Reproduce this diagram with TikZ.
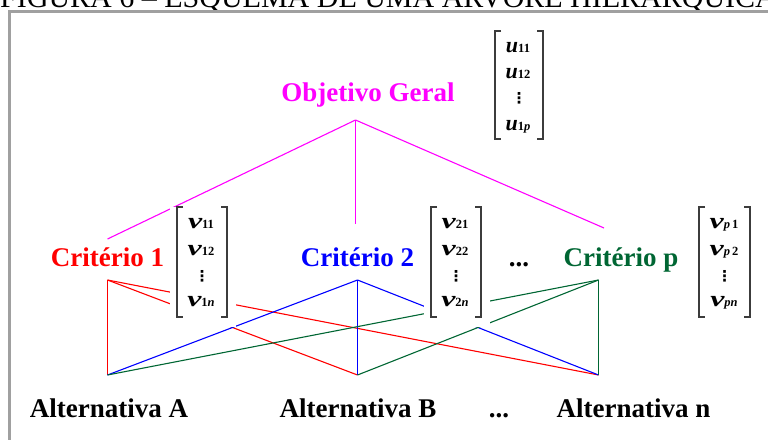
\documentclass[tikz,border=0pt]{standalone}
\usepackage{fontspec}
\usepackage{graphicx}
\setmainfont{Liberation Serif}
\newfontfamily\djv{DejaVu Sans}
\definecolor{mag}{RGB}{255,0,255}
\definecolor{cred}{RGB}{255,0,0}
\definecolor{cblue}{RGB}{0,0,255}
\definecolor{cgreen}{RGB}{0,102,51}
\definecolor{framegray}{RGB}{160,160,160}
\definecolor{brk}{RGB}{60,60,60}
\newcommand\vv[1]{{\scalebox{1.45}[1]{\fontsize{22}{22}\selectfont\bfseries\itshape v}\fontsize{12.5}{12.5}\selectfont\bfseries #1}}
\newcommand\uu[1]{{\fontsize{22}{22}\selectfont\bfseries\itshape u\fontsize{12.5}{12.5}\selectfont\upshape #1}}
\newcommand\vdts{{\djv\bfseries\fontsize{15}{15}\selectfont ⋮}}
\newcommand\mybrackets[4]{%
  \fill[white] (#1-7,#2) rectangle (#3+9,#4+10);
  \draw[brkline] (#1+6,#2) -- (#1,#2) -- (#1,#4) -- (#1+6,#4);
  \draw[brkline] (#3-6,#2) -- (#3,#2) -- (#3,#4) -- (#3-6,#4);
}
\begin{document}
\begin{tikzpicture}[x=1pt,y=-1pt,
  lbl/.style={anchor=base,inner sep=0,font=\fontsize{27}{27}\selectfont\bfseries},
  ent/.style={anchor=base,inner sep=0},
  dts/.style={anchor=base,inner sep=0},
  conn/.style={line width=1.1pt},
  brkline/.style={draw=brk,line width=1.2pt}]
\useasboundingbox (0,0) rectangle (768,439);
% title (cut at top)
\node[anchor=base west,inner sep=0,font=\fontsize{30}{30}\selectfont] (title) at (0,8) {FIGURA 6 – ESQUEMA DE UMA ÁRVORE HIERÁRQUICA};
% frame
\draw[framegray,line width=3pt] (9,460) -- (9,11.5) -- (790,11.5);
% connection points
\coordinate (og) at (355.5,120);
\coordinate (c1t) at (107.5,239);
\coordinate (c2t) at (355.5,224);
\coordinate (cpt) at (604,228);
\coordinate (c1b) at (107.5,280);
\coordinate (c2b) at (357.5,280);
\coordinate (cpb) at (598.5,280);
\coordinate (aA) at (107.5,375);
\coordinate (aB) at (357.5,375);
\coordinate (aN) at (598.5,375);
% magenta
\draw[conn,mag] (og) -- (c1t);
\draw[conn,mag] (og) -- (c2t);
\draw[conn,mag] (og) -- (cpt);
% red
\draw[conn,cred] (c1b) -- (aA);
\draw[conn,cred] (c1b) -- (aB);
\draw[conn,cred] (c1b) -- (aN);
% blue
\draw[conn,cblue] (c2b) -- (aA);
\draw[conn,cblue] (c2b) -- (aB);
\draw[conn,cblue] (c2b) -- (aN);
% green
\draw[conn,cgreen] (cpb) -- (aA);
\draw[conn,cgreen] (cpb) -- (aB);
\draw[conn,cgreen] (cpb) -- (aN);
% matrices
\mybrackets{495}{31}{543}{139}
\mybrackets{177}{207}{227}{317}
\mybrackets{431}{207}{481}{317}
\mybrackets{699}{207}{750}{317}
% u entries
\node[ent] (u11) at (518,52) {\uu{11}};
\node[ent] (u12) at (518,78) {\uu{12}};
\node[dts] (ud) at (519,103) {\vdts};
\node[ent] (u1p) at (518,130) {\uu{1\textit{p}}};
% v1 entries
\node[ent] (v11) at (201,228) {\vv{11}};
\node[ent] (v12) at (201,255) {\vv{12}};
\node[dts] (v1d) at (202,281) {\vdts};
\node[ent] (v1n) at (201,306) {\vv{1\textit{n}}};
% v2 entries
\node[ent] (v21) at (455,228) {\vv{21}};
\node[ent] (v22) at (455,255) {\vv{22}};
\node[dts] (v2d) at (456,281) {\vdts};
\node[ent] (v2n) at (455,306) {\vv{2\textit{n}}};
% vp entries
\node[ent] (vp1) at (724,228) {\vv{\textit{p}\,1}};
\node[ent] (vp2) at (724,255) {\vv{\textit{p}\,2}};
\node[dts] (vpd) at (724.5,281) {\vdts};
\node[ent] (vpn) at (724,306) {\vv{\textit{pn}}};
% labels
\node[lbl,mag] (obj) at (368,101) {Objetivo Geral};
\node[lbl,cred] (c1) at (107.5,266) {Critério 1};
\node[lbl,cblue] (c2) at (357.5,266) {Critério 2};
\node[lbl] (cdots) at (519,266) {...};
\node[lbl,cgreen] (cp) at (621,266) {Critério p};
\node[lbl] (altA) at (109,417) {Alternativa A};
\node[lbl] (altB) at (358,417) {Alternativa B};
\node[lbl] (adots) at (499,417) {...};
\node[lbl] (altN) at (633.5,417) {Alternativa n};
\end{tikzpicture}
\end{document}
